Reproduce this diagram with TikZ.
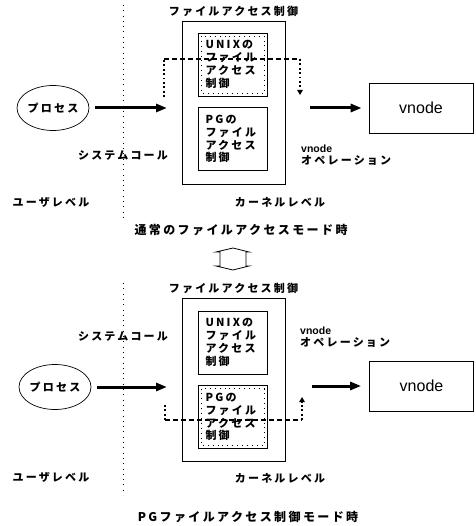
\documentclass[tikz,border=0pt]{standalone}
\usepackage{fontspec}
\setmainfont{Noto Sans CJK JP}[LetterSpace=20]
\newfontfamily\vnodefont{Liberation Sans}
\usetikzlibrary{arrows.meta,shapes.geometric}
\begin{document}
\begin{tikzpicture}
    [x=1pt,y=-1pt,
     every node/.style={font=\bfseries\fontsize{11}{12.3}\selectfont,inner sep=0pt},
     frame/.style={draw,line width=0.7pt,minimum width=103pt,minimum height=163pt},
     box/.style={draw,line width=0.7pt,minimum width=69pt,minimum height=63pt,text width=54pt,align=left,
       font=\bfseries\fontsize{11}{12.8}\selectfont},
     hilite/.style={path picture={\draw[line width=0.9pt,dash pattern=on 0.9pt off 4pt]
       ([shift={(3pt,-3pt)}]path picture bounding box.north west) rectangle
       ([shift={(-3pt,3pt)}]path picture bounding box.south east);}},
     proc/.style={ellipse,draw,line width=0.7pt,minimum width=72pt,minimum height=45pt},
     vn/.style={draw,line width=0.7pt,minimum width=104pt,minimum height=50pt,font=\vnodefont\fontsize{16}{19}\selectfont},
     level/.style={line width=0.9pt,dash pattern=on 0.9pt off 4.4pt},
     flow/.style={line width=3pt,-{Triangle[length=11pt,width=8pt]}},
     routeh/.style={line width=1.8pt,dash pattern=on 5pt off 3pt},
     routev/.style={line width=1.8pt,dash pattern=on 1.8pt off 2.6pt},
     tip/.style={-{Triangle[length=5pt,width=5.5pt]}},
     caption/.style={font=\bfseries\fontsize{12}{14}\selectfont}]
    \useasboundingbox (0,0) rectangle (475,526);
    \node[frame](fac1) at (233.5,102.5) {};
    \node(title1) at (233.5,11) {ファイルアクセス制御};
    \node[box,hilite](unix1) at (232.5,64.5) {UNIXの\\ファイル\\アクセス\\制御};
    \node[box](pg1) at (232.5,139) {PGの\\ファイル\\アクセス\\制御};
    \node[proc](proc1) at (53,108) {プロセス};
    \node[vn](vn1) at (421,108) {vnode};
    \coordinate (l1a) at (123,5);
    \coordinate (l1b) at (123,218);
    \coordinate (in1) at (167,108);
    \coordinate (out1) at (310,108);
    \coordinate (r1a) at (164,97);
    \coordinate (r1b) at (164,59);
    \coordinate (r1c) at (300,59);
    \coordinate (r1d) at (300,95);
    \draw[level] (l1a) -- (l1b);
    \draw[flow,shorten <=6pt] (proc1) -- (in1);
    \draw[flow,shorten >=7pt] (out1) -- (vn1);
    \draw[routev] (r1a) -- (r1b);
    \draw[routeh] (r1b) -- (r1c);
    \draw[routev,tip] (r1c) -- (r1d);
    \node(sys1) at (123,155) {システムコール};
    \node[anchor=west,align=left](op1) at (301,155) {{\vnodefont\fontsize{10.5}{12}\selectfont vnode}\\オペレーション};
    \node(user1) at (51,202) {ユーザレベル};
    \node(kernel1) at (280,202) {カーネルレベル};
    \node[caption](mode1) at (241,230) {通常のファイルアクセスモード時};
    \draw[line width=0.8pt] (220,266) -- (216,266) -- (233,270) -- (249,266) -- (246,266)
      -- (246,252) -- (249,252) -- (233,248) -- (216,252) -- (220,252) -- cycle;
    \node[frame](fac2) at (234,379.5) {};
    \node(title2) at (233.5,288) {ファイルアクセス制御};
    \node[box](unix2) at (232.5,342.5) {UNIXの\\ファイル\\アクセス\\制御};
    \node[box,hilite](pg2) at (232.5,417) {PGの\\ファイル\\アクセス\\制御};
    \node[proc](proc2) at (55,387) {プロセス};
    \node[vn](vn2) at (421.5,386) {vnode};
    \coordinate (l2a) at (123,283);
    \coordinate (l2b) at (123,495);
    \coordinate (in2) at (167,387);
    \coordinate (out2) at (312,386);
    \coordinate (r2a) at (165,405);
    \coordinate (r2b) at (165,420);
    \coordinate (r2c) at (302,420);
    \coordinate (r2d) at (302,397);
    \draw[level] (l2a) -- (l2b);
    \draw[flow,shorten <=6pt] (proc2) -- (in2);
    \draw[flow,shorten >=8pt] (out2) -- (vn2);
    \draw[routev] (r2a) -- (r2b);
    \draw[routeh] (r2b) -- (r2c);
    \draw[routev,tip] (r2c) -- (r2d);
    \node(sys2) at (123,336) {システムコール};
    \node[anchor=west,align=left](op2) at (300,337) {{\vnodefont\fontsize{10.5}{12}\selectfont vnode}\\オペレーション};
    \node(user2) at (51,477) {ユーザレベル};
    \node(kernel2) at (280,478) {カーネルレベル};
    \node[caption](mode2) at (248,517) {PGファイルアクセス制御モード時};
\end{tikzpicture}
\end{document}
